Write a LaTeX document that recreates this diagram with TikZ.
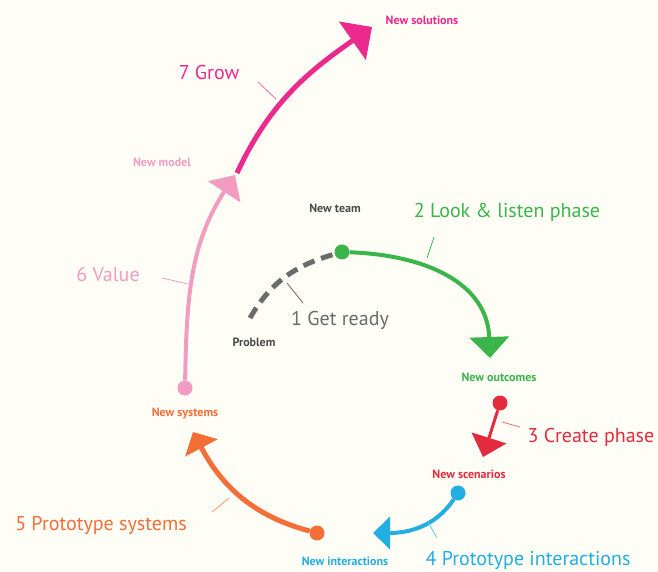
\documentclass[tikz,border=0pt]{standalone}
\usepackage{fontspec}
\setmainfont{PT Sans}
\usetikzlibrary{arrows.meta}
\definecolor{bgc}{HTML}{FEFEF7}
\definecolor{cgray}{HTML}{6B6B6B}
\definecolor{cdark}{HTML}{4A4A4A}
\definecolor{cgreen}{HTML}{3BB44A}
\definecolor{cred}{HTML}{E32B3D}
\definecolor{cblue}{HTML}{22AEE0}
\definecolor{corange}{HTML}{F46E38}
\definecolor{cpink}{HTML}{F39CC2}
\definecolor{cmag}{HTML}{EC2A8E}
\begin{document}
\begin{tikzpicture}[x=1pt,y=1pt,
  big/.style={font=\fontsize{20}{22}\selectfont, inner sep=0pt},
  small/.style={font=\bfseries\fontsize{12}{14}\selectfont, inner sep=0pt},
  dot/.style={circle, fill, minimum size=15pt, inner sep=0pt},
  tick/.style={line width=0.8pt},
  head/.style args={#1/#2}{-{Triangle[length=#1,width=#2]}}
]
\useasboundingbox (0,0) rectangle (658,571);
\fill[bgc] (0,0) rectangle (658,571);

% dots and tips
\node[dot, fill=cgreen] (gdot) at (342,319) {};
\node[dot, fill=cred, minimum size=15pt] (rdot) at (500,168) {};
\node[dot, fill=cblue] (bdot) at (458,78) {};
\node[dot, fill=corange] (odot) at (317,38) {};
\node[dot, fill=cpink] (pdot) at (185,183) {};
\coordinate (gstart) at (250,253);
\coordinate (gtip) at (490,213);
\coordinate (rtip) at (483,114);
\coordinate (btip) at (373,38);
\coordinate (otip) at (193,139);
\coordinate (ptip) at (235,396);
\coordinate (mstart) at (237,398);
\coordinate (mtip) at (372,544);

% connectors
\draw[cgray, line width=5pt, dash pattern=on 12pt off 7pt] (gstart) to[out=60,in=196] (gdot);
\draw[cgreen, line width=4pt, head=21pt/39pt] (gdot) to[out=-2,in=92, looseness=1.1] (gtip);
\draw[cred, line width=3pt, head=20pt/36pt] (rdot) -- (rtip);
\draw[cblue, line width=4pt, head=17pt/32pt] (bdot) to[out=236,in=0] (btip);
\draw[corange, line width=5pt, head=18pt/36pt] (odot) to[out=165,in=-62] (otip);
\draw[cpink, line width=4pt, head=20pt/38pt] (pdot) to[out=89,in=-123] (ptip);
\draw[cmag, line width=5pt, head=24pt/46pt] (mstart) to[out=65,in=-145] (mtip);

% ticks
\draw[tick, cgray] (287,288) -- (303,268);
\draw[tick, cgreen] (434,334) -- (427,313);
\draw[tick, cred!70] (502,149) -- (520,144);
\draw[tick, cblue!70] (428,49) -- (437,33);
\draw[tick, corange!70] (229,73) -- (212,59);
\draw[tick, cpink] (162,293) -- (188,287);
\draw[tick, cmag!70] (258,489) -- (276,472);

% labels
\node[small, text=cmag] (lsol) at (422,551) {New solutions};
\node[big, text=cmag] (lgrow) at (209,498) {7 Grow};
\node[small, text=cpink] (lmodel) at (162,409) {New model};
\node[big, text=cpink] (lvalue) at (108,297) {6 Value};
\node[small, text=cdark] (lteam) at (335,363) {New team};
\node[big, text=cgreen] (llook) at (507,359) {2 Look \& listen phase};
\node[big, text=cgray] (lready) at (340,251) {1 Get ready};
\node[small, text=cdark] (lprob) at (254,229) {Problem};
\node[small, text=cgreen] (lout) at (499,194) {New outcomes};
\node[big, text=cred] (lcreate) at (591,134) {3 Create phase};
\node[small, text=cred] (lscen) at (469,97) {New scenarios};
\node[small, text=corange] (lsys) at (185,158) {New systems};
\node[big, text=corange] (lpsys) at (101,46) {5 Prototype systems};
\node[small, text=cblue] (lint) at (345,10) {New interactions};
\node[big, text=cblue] (lpint) at (528,11) {4 Prototype interactions};
\end{tikzpicture}
\end{document}
